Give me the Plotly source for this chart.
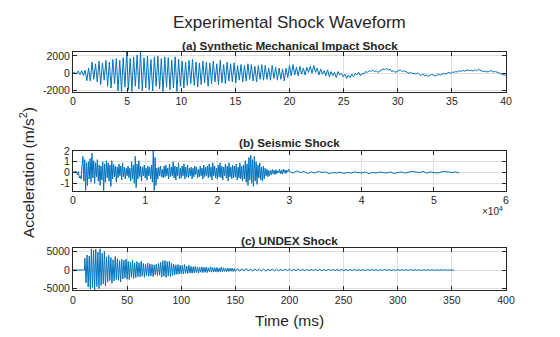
import numpy as np
import plotly.graph_objects as go

# ---------------- (a) Synthetic mechanical impact shock (time in ms) ----------------
impact_dt_ms = 0.16
impact_acc = [
    0, 120, -80, 260, -150, 300, -250, 350, -850, 600,
    -900, 1300, -700, 1100, -1000, 1400, -1300, 1200, -800, 1500,
    -1500, 1300, -1700, 1600, -1200, 1700, -2000, 1500, -2100, 1800,
    -1600, 2450, -1900, 1700, -2100, 1900, -1500, 2100, -1800, 2450,
    -2000, 1800, -1700, 2000, -1900, 1600, -2050, 1900, -1500, 2000,
    -1800, 1700, -2120, 1900, -1600, 1800, -1900, 1500, -1700, 1900,
    -2100, 1600, -1500, 1400, -1700, 1300, -1400, 1500, -1200, 1600,
    -1400, 1300, -1600, 1200, -1300, 1400, -1100, 1300, -1500, 1200,
    -1200, 1400, -1000, 1100, -1300, 1500, -1100, 1000, -1200, 1300,
    -900, 1100, -1000, 1200, -1100, 900, -800, 1000, -1000, 900,
    -900, 1100, -700, 1000, -900, 800, -1000, 900, -700, 1000,
    -800, 900, -700, 600, -800, 900, -600, 700, -800, 600,
    -700, 500, -900, 600, -500, 900, -300, 1000, -200, 700,
    -300, 800, -100, 600, -200, 700, 100, 800, 0, 900,
    100, 600, -200, 500, -100, 300, -300, 400, -400, 200,
    -300, 100, -500, 200, -200, 0, -400, -100, -600, -200,
    -500, -100, -400, 0, -200, 100, -300, 0, -100, 200,
    100, 300, 200, 400, 150, 300, 100, 250, 300, 500,
    400, 600, 350, 500, 200, 300, 100, 250, 300, 400,
    200, 300, 150, 100, 0, 100, -50, 0, -100, 50,
    -150, -250, -100, -300, -200, -350, -250, -150, -200, -300,
    -250, -100, -200, -50, 0, -100, 50, 100, 0, 150,
    100, 200, 150, 300, 200, 350, 250, 300, 400, 300,
    350, 250, 400, 300, 450, 350, 300, 200, 250, 150,
    200, 300, 250, 150, 200, 100, 0, -100, -150, -200,
    -200,
]
impact_t = np.arange(len(impact_acc)) * impact_dt_ms

# ---------------- (b) Seismic shock (time axis shown as x10^4) ----------------
seismic_dt_strong = 125      # strong-motion part, 0 .. 29875
seismic_acc_strong = [
    0.0, 0.1, -0.05, 0.15, 0.0, -0.2, 0.1, -0.5, -0.3, -0.6,
    0.6, 1.5, -0.8, 1.2, -1.69, 0.9, -1.2, 1.0, -0.6, 1.3,
    -0.9, 1.8, -0.5, 1.1, -1.0, 0.9, -0.4, 1.2, -0.8, 0.7,
    -1.2, 0.6, -0.7, 1.0, -1.69, 0.8, -0.9, 1.1, -0.5, 0.9,
    -0.8, 0.7, -1.3, 1.1, -0.6, 0.8, -0.4, 0.6, -0.9, 0.5,
    -0.5, 0.8, -0.3, 0.6, -0.7, 0.9, -0.4, 0.5, -0.6, 0.4,
    -0.3, 0.6, -0.5, 0.4, -0.8, 1.0, -0.6, 0.7, -1.0, 1.5,
    -1.4, 0.8, -0.6, 1.1, -0.4, 0.6, -0.8, 0.5, -0.3, 0.7,
    -0.5, 0.4, -0.7, 0.6, -0.3, 0.5, -0.6, 0.7, -0.9, 2.0,
    -1.69, 1.4, -1.2, 0.4, -0.6, 0.5, -0.3, 0.6, -0.4, 0.3,
    -0.5, 0.6, -0.4, 0.7, -0.3, 0.4, -0.6, 0.8, -0.4, 0.5,
    -0.3, 1.0, -0.5, 0.6, -0.7, 0.5, -0.3, 0.9, -0.6, 0.4,
    -0.5, 0.6, -0.3, 0.8, -0.6, 0.5, -0.4, 0.7, -0.5, 0.4,
    -0.3, 0.5, -0.6, 0.4, -0.4, 0.6, -0.2, 0.5, -0.5, 0.3,
    -0.4, 0.6, -0.3, 0.4, -0.6, 0.7, -0.4, 0.5, -0.3, 0.6,
    -0.5, 0.8, -0.4, 0.5, -0.7, 0.9, -0.3, 0.6, -0.5, 0.4,
    -0.6, 0.7, -0.4, 0.9, -0.5, 0.6, -0.7, 0.5, -0.3, 0.8,
    -0.5, 0.6, -0.8, 0.9, -0.4, 0.5, -0.6, 0.7, -0.5, 0.6,
    -0.4, 0.8, -0.7, 0.5, -0.5, 0.9, -0.6, 0.6, -0.8, 0.7,
    -0.6, 1.1, -0.9, 0.8, -1.2, 1.4, -0.7, 1.6, -1.0, 1.2,
    -1.3, 1.5, -0.8, 1.0, -1.1, 0.7, -0.5, 0.9, -0.7, 0.5,
    -0.8, 0.6, -0.6, 0.4, -0.3, 0.3, -0.4, 0.2, -0.3, 0.2,
    -0.2, 0.3, -0.1, 0.2, -0.2, 0.25, -0.1, 0.15, 0.0, 0.3,
    -0.1, 0.2, -0.15, 0.3, 0.0, 0.25, -0.1, 0.2, 0.05, 0.3,
]
seismic_dt_coda = 500        # coda, 30000 .. 53500
seismic_acc_coda = [
    0.1, -0.05, 0.15, 0.0, 0.1, -0.1, 0.05, -0.05, 0.1, 0.0,
    0.05, -0.1, 0.0, -0.05, 0.05, -0.1, 0.0, -0.05, 0.05, 0.0,
    -0.05, 0.05, -0.1, 0.0, -0.05, 0.05, 0.0, -0.05, 0.05, -0.1,
    0.0, 0.05, -0.05, 0.0, 0.1, 0.05, 0.0, 0.1, -0.05, 0.05,
    0.0, -0.05, 0.05, 0.1, 0.05, 0.0, 0.05, -0.05,
]
seismic_t = np.concatenate([
    np.arange(len(seismic_acc_strong)) * seismic_dt_strong,
    30000 + np.arange(len(seismic_acc_coda)) * seismic_dt_coda,
])
seismic_acc = seismic_acc_strong + seismic_acc_coda

# ---------------- (c) UNDEX shock (time in ms) ----------------
undex_t_quiet = [0.0, 10.5]
undex_acc_quiet = [0, 0]
undex_burst_t0, undex_burst_dt = 11.0, 1.0
undex_acc_burst = [
    3200, -3500, 4100, -4600, 3800, -5200, 5800, -4800, 5400, -5400,
    5700, -4500, 4900, -5100, 5800, -4200, 4600, -3800, 5100, -4400,
    3600, -3300, 4000, -2900, 3400, -3600, 2800, -3000, 3700, -2600,
    3100, -2800, 2600, -3300, 2900, -2400, 2700, -2200, 3000, -2500,
    2400, -2600, 2200, -2000, 2600, -2300, 1900, -2100, 2300, -1800,
    2000, -1900, 2400, -1700, 1800, -2000, 1600, -1500, 1900, -1700,
    1700, -1600, 1500, -1800, 1400, -1300, 1600, -1500, 1800, -1400,
    2100, -1900, 2500, -1700, 2600, -2000, 2300, -1600, 2400, -1800,
    1900, -1500, 1600, -1300, 1400, -1200, 1500, -1100, 1300, -1000,
    1200, -1100, 1500, -900, 1100, -1000, 1300, -800, 1000, -900,
    900, -800, 1000, -700, 800, -900, 700, -600, 900, -700,
    700, -600, 800, -700, 600, -500, 900, -600, 700, -500,
    600, -500, 700, -600, 500, -450, 800, -500, 600, -400,
    500, -450, 550, -400, 450, -350, 500, -400, 400, -350,
]
undex_tail_t0, undex_tail_dt = 152.0, 2.0
undex_acc_tail = [
    400, -350, 350, -300, 450, -300, 300, -350, 350, -250,
    300, -250, 280, -300, 250, -220, 300, -200, 250, -230,
    220, -200, 250, -180, 200, -220, 180, -200, 220, -170,
    200, -180, 170, -200, 190, -160, 200, -150, 180, -170,
    160, -150, 180, -140, 170, -160, 150, -150, 160, -130,
    150, -140, 130, -150, 140, -120, 150, -130, 120, -140,
    140, -120, 130, -110, 120, -130, 110, -120, 130, -100,
    120, -110, 100, -120, 110, -100, 120, -90, 100, -110,
    100, -90, 110, -100, 90, -100, 100, -80, 90, -90,
    90, -80, 80, -90, 90, -70, 80, -80, 70, -80,
    0,
]
undex_t = np.concatenate([
    undex_t_quiet,
    undex_burst_t0 + np.arange(len(undex_acc_burst)) * undex_burst_dt,
    undex_tail_t0 + np.arange(len(undex_acc_tail)) * undex_tail_dt,
])
undex_acc = undex_acc_quiet + undex_acc_burst + undex_acc_tail

# ---------------- Axis ticks ----------------
x_ticks_a = [0, 5, 10, 15, 20, 25, 30, 35, 40]
y_ticks_a = [-2000, 0, 2000]
x_ticks_b = [0, 10000, 20000, 30000, 40000, 50000, 60000]
x_labels_b = ["0", "1", "2", "3", "4", "5", "6"]
y_ticks_b = [-1, 0, 1, 2]
x_ticks_c = [0, 50, 100, 150, 200, 250, 300, 350, 400]
y_ticks_c = [-5000, 0, 5000]

W, H = 560, 337
LINE = "#0072BD"
AX = "#262626"
GRID = "#dfdfdf"
FONT = "Liberation Sans, Arial, sans-serif"


def fy(px):
    return 1 - px / H


def fx(px):
    return px / W


fig = go.Figure()
fig.add_trace(go.Scatter(x=impact_t, y=impact_acc, mode="lines",
                         line=dict(color=LINE, width=1), xaxis="x", yaxis="y"))
fig.add_trace(go.Scatter(x=seismic_t, y=seismic_acc, mode="lines",
                         line=dict(color=LINE, width=1), xaxis="x2", yaxis="y2"))
fig.add_trace(go.Scatter(x=undex_t, y=undex_acc, mode="lines",
                         line=dict(color=LINE, width=1), xaxis="x3", yaxis="y3"))

x_dom = [fx(73), fx(506)]
common = dict(showline=True, linecolor=AX, linewidth=1, mirror="ticks",
              ticks="inside", ticklen=4, tickcolor=AX, tickwidth=1,
              showgrid=True, gridcolor=GRID, gridwidth=1, zeroline=False,
              automargin=False,
              tickfont=dict(family=FONT, size=10.5, color=AX))


def txt(vals):
    return [str(v) for v in vals]


fig.update_layout(
    template="none",
    width=W, height=H, autosize=False,
    margin=dict(l=0, r=0, t=0, b=0),
    paper_bgcolor="white", plot_bgcolor="white",
    showlegend=False,
    xaxis=dict(domain=x_dom, anchor="y", range=[0, 40],
               tickvals=x_ticks_a, ticktext=txt(x_ticks_a), **common),
    yaxis=dict(domain=[fy(91.7), fy(52)], anchor="x", range=[-2130, 2460],
               tickvals=y_ticks_a, ticktext=txt(y_ticks_a), **common),
    xaxis2=dict(domain=x_dom, anchor="y2", range=[0, 60000],
                tickvals=x_ticks_b, ticktext=x_labels_b, **common),
    yaxis2=dict(domain=[fy(190.7), fy(151)], anchor="x2", range=[-1.69, 2.0],
                tickvals=y_ticks_b, ticktext=txt(y_ticks_b), **common),
    xaxis3=dict(domain=x_dom, anchor="y3", range=[0, 400],
                tickvals=x_ticks_c, ticktext=txt(x_ticks_c), **common),
    yaxis3=dict(domain=[fy(290), fy(248.3)], anchor="x3", range=[-5460, 5930],
                tickvals=y_ticks_c, ticktext=txt(y_ticks_c), **common),
)

cx = (x_dom[0] + x_dom[1]) / 2
annos = [
    dict(text="Experimental Shock Waveform", x=cx, y=fy(22.5), size=17, bold=False),
    dict(text="(a) Synthetic Mechanical Impact Shock", x=cx, y=fy(45), size=11.7, bold=True),
    dict(text="(b) Seismic Shock", x=cx, y=fy(142.5), size=11.7, bold=True),
    dict(text="(c) UNDEX Shock", x=cx, y=fy(240), size=11.7, bold=True),
    dict(text="Time (ms)", x=cx, y=fy(320), size=15.5, bold=False),
]
for a in annos:
    t = f"<b>{a['text']}</b>" if a["bold"] else a["text"]
    fig.add_annotation(text=t, x=a["x"], y=a["y"], xref="paper", yref="paper",
                       xanchor="center", yanchor="middle", showarrow=False,
                       font=dict(family=FONT, size=a["size"], color=AX))

fig.add_annotation(text="Acceleration (m/s<sup>2</sup>)", x=fx(27), y=fy(173),
                   xref="paper", yref="paper", xanchor="center", yanchor="middle",
                   textangle=-90, showarrow=False,
                   font=dict(family=FONT, size=15.5, color=AX))
fig.add_annotation(text="\u00d710<sup>4</sup>", x=fx(505), y=fy(211),
                   xref="paper", yref="paper", xanchor="right", yanchor="middle",
                   showarrow=False, font=dict(family=FONT, size=10, color=AX))

fig.write_html("out.html")
